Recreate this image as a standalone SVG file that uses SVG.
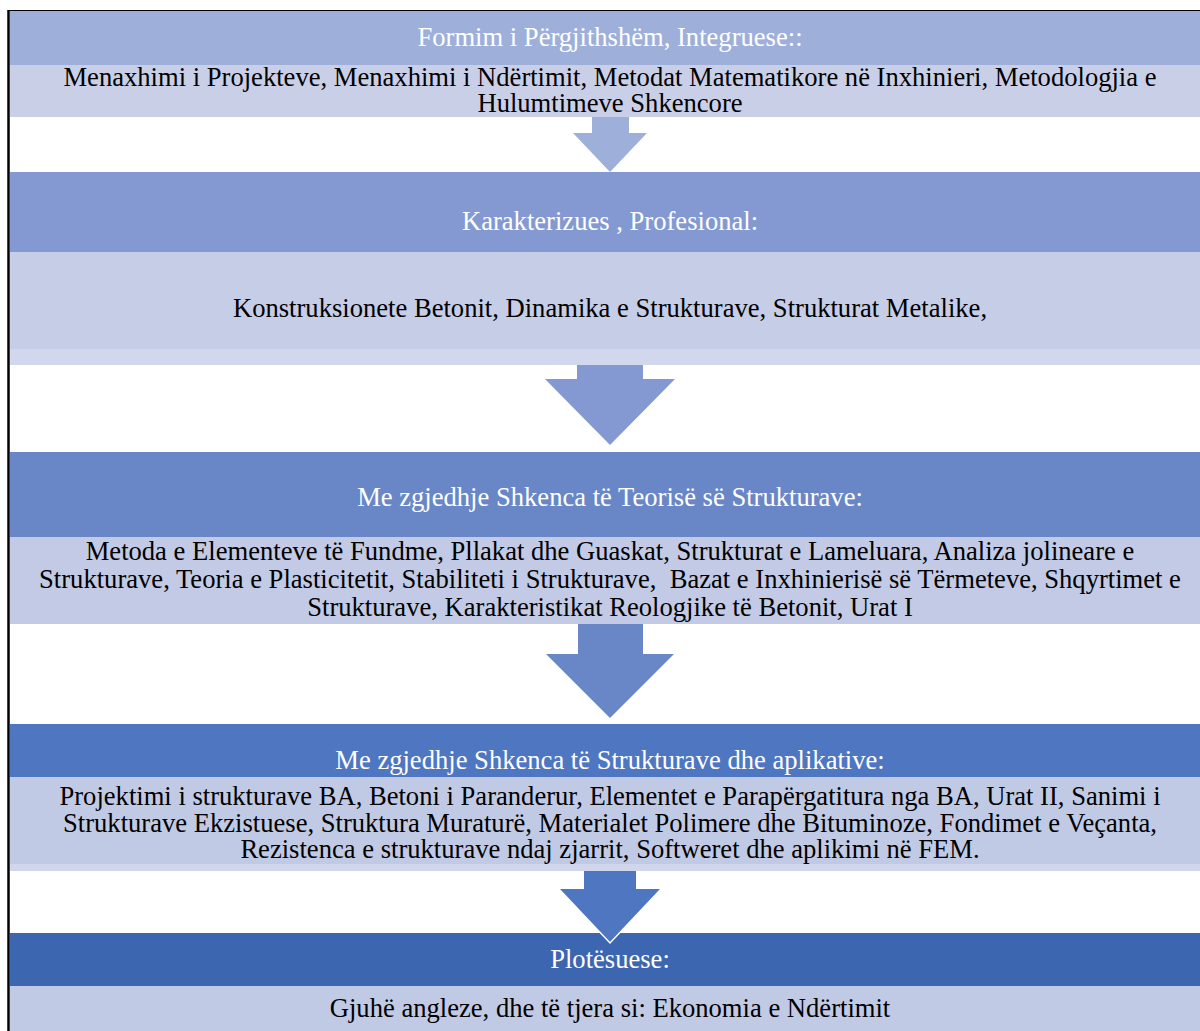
<svg xmlns="http://www.w3.org/2000/svg" width="1200" height="1031" viewBox="0 0 1200 1031">
<style>
.t{font-family:"Liberation Serif","Times New Roman",serif;font-size:26.6px;text-anchor:middle;fill:#000}
.h{font-family:"Liberation Serif","Times New Roman",serif;font-size:26.6px;text-anchor:middle;fill:#fff}
.tip{fill:none;stroke:#fff;stroke-width:1.5}
</style>
<rect x="0" y="0" width="1200" height="1031" fill="#fff"/>
<g id="connectors">
<polygon points="592,117 629,117 629,133 647,133 610,172 573,133 592,133" fill="#9EAFDA"/>
<rect x="577" y="349" width="66" height="16" fill="#C6CDE7"/>
<polygon points="577,365 643,365 643,379 675,379 610,445 545,379 577,379" fill="#8499D2"/>
<polygon points="578,624 643,624 643,654 674,654 610,718 546,654 578,654" fill="#6987C6"/>
<rect x="584" y="864" width="52" height="7" fill="#C1CAE5"/>
</g>
<g id="n1">
<rect x="10" y="11" width="1200" height="54" fill="#9EAFDA"/>
<rect x="10" y="65" width="1200" height="52" fill="#CACFE8"/>
<text class="h" x="610" y="46">Formim i Përgjithshëm, Integruese::</text>
<text class="t" x="610" y="86">Menaxhimi i Projekteve, Menaxhimi i Ndërtimit, Metodat Matematikore në Inxhinieri, Metodologjia e</text>
<text class="t" x="610" y="112">Hulumtimeve Shkencore</text>
</g>
<g id="n2">
<rect x="10" y="172" width="1200" height="80" fill="#8499D2"/>
<rect x="10" y="252" width="1200" height="97" fill="#C6CDE7"/>
<rect x="10" y="349" width="1200" height="16" fill="#D1D7EC"/>
<text class="h" x="610" y="230">Karakterizues , Profesional:</text>
<text class="t" x="610" y="317">Konstruksionete Betonit, Dinamika e Strukturave, Strukturat Metalike,</text>
</g>
<g id="n3">
<rect x="10" y="452" width="1200" height="85" fill="#6987C6"/>
<rect x="10" y="537" width="1200" height="87" fill="#C2CAE5"/>
<text class="h" x="610" y="506">Me zgjedhje Shkenca të Teorisë së Strukturave:</text>
<text class="t" x="610" y="560">Metoda e Elementeve të Fundme, Pllakat dhe Guaskat, Strukturat e Lameluara, Analiza jolineare e</text>
<text class="t" x="610" y="588" xml:space="preserve">Strukturave, Teoria e Plasticitetit, Stabiliteti i Strukturave,  Bazat e Inxhinierisë së Tërmeteve, Shqyrtimet e</text>
<text class="t" x="610" y="616">Strukturave, Karakteristikat Reologjike të Betonit, Urat I</text>
</g>
<g id="n4">
<rect x="10" y="724" width="1200" height="53" fill="#4F76C0"/>
<rect x="10" y="777" width="1200" height="87" fill="#C1CAE5"/>
<rect x="10" y="864" width="1200" height="7" fill="#D0D6EC"/>
<text class="h" x="610" y="769">Me zgjedhje Shkenca të Strukturave dhe aplikative:</text>
<text class="t" x="610" y="805">Projektimi i strukturave BA, Betoni i Paranderur, Elementet e Parapërgatitura nga BA, Urat II, Sanimi i</text>
<text class="t" x="610" y="832">Strukturave Ekzistuese, Struktura Muraturë, Materialet Polimere dhe Bituminoze, Fondimet e Veçanta,</text>
<text class="t" x="610" y="858">Rezistenca e strukturave ndaj zjarrit, Softweret dhe aplikimi në FEM.</text>
</g>
<g id="n5">
<rect x="10" y="933" width="1200" height="53" fill="#3D66B0"/>
<rect x="10" y="986" width="1200" height="50" fill="#C1CAE5"/>
<text class="h" x="610" y="968">Plotësuese:</text>
<text class="t" x="610" y="1017">Gjuhë angleze, dhe të tjera si: Ekonomia e Ndërtimit</text>
</g>
<g id="arrow4">
<polygon points="584,871 636,871 636,889 661,889 610,943 559,889 584,889" fill="#4F76C0"/>
<polyline class="tip" points="661,889 610,943 559,889"/>
</g>
<g id="frame">
<line x1="8.5" y1="10" x2="8.5" y2="1031" stroke="#000" stroke-width="2.5"/>
<line x1="8" y1="10.5" x2="1200" y2="10.5" stroke="#000" stroke-width="1.2"/>
</g>
</svg>
